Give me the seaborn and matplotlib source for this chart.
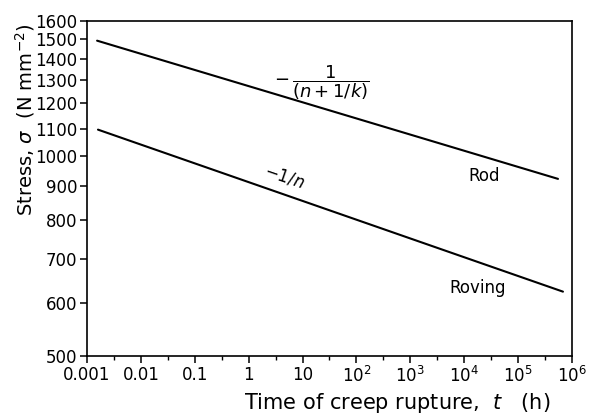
import numpy as np
import pandas as pd
import matplotlib
matplotlib.use("Agg")
import matplotlib.pyplot as plt
import matplotlib.ticker as mticker
import seaborn as sns

# Creep-rupture lines (end points on log-log axes)
rod_time = [0.00154, 5.5e5]
rod_stress = [1492, 924]
roving_time = [0.0016, 6.8e5]
roving_stress = [1096, 625]

y_ticks = [500, 600, 700, 800, 900, 1000, 1100, 1200, 1300, 1400, 1500, 1600]
x_ticks = [1e-3, 1e-2, 1e-1, 1, 10, 1e2, 1e3, 1e4, 1e5, 1e6]
x_tick_labels = ["0.001", "0.01", "0.1", "1", "10", r"$10^2$", r"$10^3$",
                 r"$10^4$", r"$10^5$", r"$10^6$"]

df = pd.DataFrame({
    "time": rod_time + roving_time,
    "stress": rod_stress + roving_stress,
    "material": ["Rod"] * 2 + ["Roving"] * 2,
})

sns.set_theme(style="ticks")
plt.rcParams["font.family"] = ["DejaVu Sans"]
plt.rcParams["mathtext.fontset"] = "dejavusans"
plt.rcParams["text.color"] = "black"
plt.rcParams["axes.labelcolor"] = "black"

fig = plt.figure(figsize=(5.97, 4.16), dpi=100)
ax = fig.add_axes([0.1457, 0.1442, 0.8124, 0.8065])

sns.lineplot(data=df, x="time", y="stress", units="material", estimator=None,
             color="black", linewidth=1.5, ax=ax, legend=False)

ax.set_xscale("log")
ax.set_yscale("log")
ax.set_xlim(1e-3, 1e6)
ax.set_ylim(500, 1600)

ax.xaxis.set_major_locator(mticker.FixedLocator(x_ticks))
ax.xaxis.set_major_formatter(mticker.FixedFormatter(x_tick_labels))
ax.xaxis.set_minor_locator(mticker.FixedLocator([10 ** (k + 0.5) for k in range(-3, 6)]))
ax.xaxis.set_minor_formatter(mticker.NullFormatter())

ax.yaxis.set_major_locator(mticker.FixedLocator(y_ticks))
ax.yaxis.set_major_formatter(mticker.FixedFormatter([str(v) for v in y_ticks]))
ax.yaxis.set_minor_locator(mticker.NullLocator())

ax.tick_params(axis="both", which="major", direction="out", length=5, width=1.1,
               labelsize=12, color="black", labelcolor="black", pad=2)
ax.tick_params(axis="x", which="minor", direction="out", length=3, width=1.0,
               color="black")

for side in ["left", "right", "top", "bottom"]:
    ax.spines[side].set_visible(True)
    ax.spines[side].set_color("black")
    ax.spines[side].set_linewidth(1.2)

ax.set_xlabel(r"Time of creep rupture,  $t$   (h)", fontsize=15, color="black")
ax.xaxis.set_label_coords(0.64, -0.105)
ax.set_ylabel(r"Stress, $\sigma$  (N mm$^{-2}$)", fontsize=14, color="black")
ax.yaxis.set_label_coords(-0.103, 0.705)

ax.text(0.485, 0.815, r"$-\,\dfrac{1}{(n+1/k)}$", transform=ax.transAxes,
        fontsize=13, ha="center", va="center", color="black")
ax.text(0.408, 0.535, r"$-1/n$", transform=ax.transAxes, fontsize=12,
        ha="center", va="center", rotation=-19, color="black")
ax.text(0.819, 0.537, "Rod", transform=ax.transAxes, fontsize=12,
        ha="center", va="center", color="black")
ax.text(0.806, 0.203, "Roving", transform=ax.transAxes, fontsize=12,
        ha="center", va="center", color="black")

fig.savefig("out.png", dpi=100, facecolor="white")
